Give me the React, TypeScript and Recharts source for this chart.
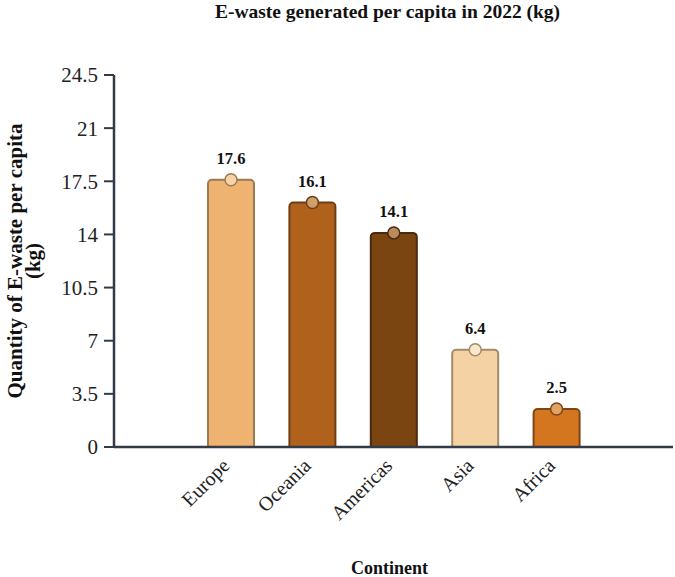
import React from 'react';
import { BarChart, Bar, XAxis, YAxis, Cell, LabelList } from 'recharts';

const continents = ['Europe', 'Oceania', 'Americas', 'Asia', 'Africa'];
const eWastePerCapita = [17.6, 16.1, 14.1, 6.4, 2.5];
const barFills = ['#EFB371', '#B0611C', '#7A4511', '#F4D2A4', '#D4761F'];
const barStrokes = ['#9C7A52', '#6E3E12', '#4A2A0A', '#A38A6A', '#7C4615'];
const dotFills = ['#F6D3A8', '#CE9F6F', '#B98B5F', '#F9E6CB', '#E2A263'];
const yTicks = [0, 3.5, 7, 10.5, 14, 17.5, 21, 24.5];

const data = continents.map((c, i) => ({ continent: c, value: eWastePerCapita[i] }));

const SERIF = '"Liberation Serif", "Times New Roman", serif';
const AXIS = '#333B47';

const TopLabel = (props: any) => {
  const { x, y, width, value, index } = props;
  const cx = Number(x) + Number(width) / 2;
  const cy = Number(y);
  return (
    <g>
      <circle cx={cx} cy={cy} r={6} fill={dotFills[index]} stroke={barStrokes[index]} strokeWidth={1.5} />
      <text x={cx} y={cy - 16} textAnchor="middle" fontFamily={SERIF} fontWeight="bold" fontSize={16.5} fill="#111">
        {value}
      </text>
    </g>
  );
};

const XTick = (props: any) => {
  const { x, y, payload } = props;
  return (
    <g transform={`translate(${x},${y + 12}) rotate(-45)`}>
      <text x={0} y={0} textAnchor="end" fontFamily={SERIF} fontSize={20} fill="#222">
        {payload.value}
      </text>
    </g>
  );
};

const YLabel = (props: any) => {
  const vb = props.viewBox || {};
  const cy = vb.y + vb.height / 2;
  return (
    <g>
      <text transform={`translate(22,${cy}) rotate(-90)`} textAnchor="middle" fontFamily={SERIF} fontWeight="bold" fontSize={21} fill="#111">
        Quantity of E-waste per capita
      </text>
      <text transform={`translate(40,${cy}) rotate(-90)`} textAnchor="middle" fontFamily={SERIF} fontWeight="bold" fontSize={21} fill="#111">
        (kg)
      </text>
    </g>
  );
};

const XLabel = (props: any) => {
  const vb = props.viewBox || {};
  return (
    <text x={vb.x + vb.width / 2 - 4} y={vb.y + vb.height - 3} textAnchor="middle" fontFamily={SERIF} fontWeight="bold" fontSize={18} fill="#111">
      Continent
    </text>
  );
};

export default function App() {
  return (
    <div style={{ position: 'absolute', left: 0, top: 0, width: 675, height: 577 }}>
      <div
        style={{
          position: 'absolute',
          left: 0,
          top: 1,
          width: 675,
          textAlign: 'center',
          fontFamily: SERIF,
          fontWeight: 'bold',
          fontSize: 19.5,
          color: '#111',
          paddingLeft: 100,
          boxSizing: 'border-box',
        }}
      >
        E-waste generated per capita in 2022 (kg)
      </div>
      <BarChart width={675} height={577} data={data} margin={{ top: 75, right: 2, left: 0, bottom: 0 }}>
        <XAxis
          dataKey="continent"
          height={130}
          padding={{ left: 76, right: 76 }}
          tickLine={false}
          axisLine={{ stroke: AXIS, strokeWidth: 2.5 }}
          tick={<XTick />}
          interval={0}
          label={<XLabel />}
        />
        <YAxis
          width={114}
          domain={[0, 24.5]}
          ticks={yTicks}
          interval={0}
          tickSize={10}
          tickMargin={6}
          axisLine={{ stroke: AXIS, strokeWidth: 2.5 }}
          tickLine={{ stroke: AXIS, strokeWidth: 2 }}
          tick={{ fontFamily: SERIF, fontSize: 21, fill: '#222' }}
          label={<YLabel />}
        />
        <Bar dataKey="value" barSize={46} radius={[4, 4, 0, 0]} strokeWidth={2} isAnimationActive={false}>
          {data.map((d, i) => (
            <Cell key={d.continent} fill={barFills[i]} stroke={barStrokes[i]} />
          ))}
          <LabelList dataKey="value" content={<TopLabel />} />
        </Bar>
      </BarChart>
    </div>
  );
}
